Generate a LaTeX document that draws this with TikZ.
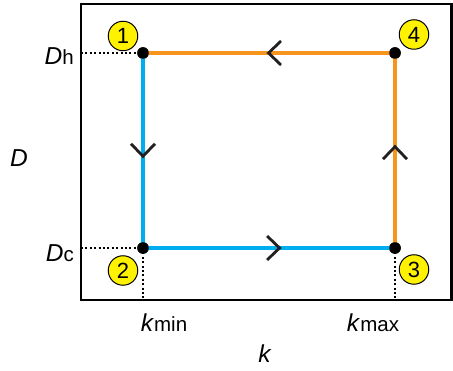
\documentclass[tikz,border=0pt]{standalone}
\usepackage{fontspec}
\setmainfont{Liberation Sans}
\usetikzlibrary{arrows.meta,decorations.markings}
\definecolor{cblue}{HTML}{00AEEF}
\definecolor{corange}{HTML}{F7941D}
\definecolor{cyell}{HTML}{FFF200}
\definecolor{cdark}{HTML}{231F20}
\tikzset{
  frame/.style={draw=black, line width=2.3pt},
  seg/.style={line width=4.6pt},
  dotline/.style={draw=black, line width=2pt, dash pattern=on 2pt off 2.4pt},
  pt/.style={circle, fill=black, inner sep=0pt, minimum size=11.5pt},
  num/.style={circle, draw=black, line width=1pt, fill=cyell, inner sep=0pt, minimum size=29.5pt, font=\fontsize{22}{22}\selectfont},
  lab/.style={inner sep=0pt, font=\fontsize{24.5}{24.5}\selectfont},
  chevat/.style={postaction={decorate, decoration={markings, mark=at position #1 with {\arrow[cdark]{Straight Barb[length=12.5pt, width=24pt, line width=2.8pt]}}}}}
}
\newcommand{\sub}[1]{{\fontsize{20.5}{20.5}\selectfont #1}}
\begin{document}
\begin{tikzpicture}[x=1pt, y=-1pt]
\useasboundingbox (0,0) rectangle (453,371);
\fill[white] (0,0) rectangle (453,371);
\draw[frame] (81,4) rectangle (451.5,300);
\coordinate (fl1) at (81,53);
\coordinate (fl2) at (81,248);
\coordinate (fb2) at (143,300);
\coordinate (fb3) at (395,300);
\node[pt] (p1) at (143,53) {};
\node[pt] (p2) at (143,248) {};
\node[pt] (p3) at (395,248) {};
\node[pt] (p4) at (395,53) {};
\draw[dotline] (fl1) -- (p1.center);
\draw[dotline] (fl2) -- (p2.center);
\draw[dotline] (p2.center) -- (fb2);
\draw[dotline] (p3.center) -- (fb3);
\draw[seg, cblue, chevat=0.54] (p1.center) -- (p2.center);
\draw[seg, cblue, chevat=0.55] (p2.center) -- (p3.center);
\draw[seg, corange, chevat=0.53] (p3.center) -- (p4.center);
\draw[seg, corange, chevat=0.51] (p4.center) -- (p1.center);
\node[pt] at (p1) {};
\node[pt] at (p2) {};
\node[pt] at (p3) {};
\node[pt] at (p4) {};
\node[num] (n1) at (123,36) {1};
\node[num] (n2) at (123,270.5) {2};
\node[num] (n3) at (414,269.5) {3};
\node[num] (n4) at (414,34.5) {4};
\node[lab, anchor=base east] (dh) at (74,65) {\textit{D}\sub{h}};
\node[lab, anchor=base east] (dc) at (74,262) {\textit{D}\sub{c}};
\node[lab, anchor=base] (d) at (19,167) {\textit{D}};
\node[lab, anchor=base] (kmin) at (164,332) {\textit{k}\sub{min}};
\node[lab, anchor=base] (kmax) at (373,332) {\textit{k}\sub{max}};
\node[lab, anchor=base] (k) at (265,363) {\textit{k}};
\end{tikzpicture}
\end{document}
